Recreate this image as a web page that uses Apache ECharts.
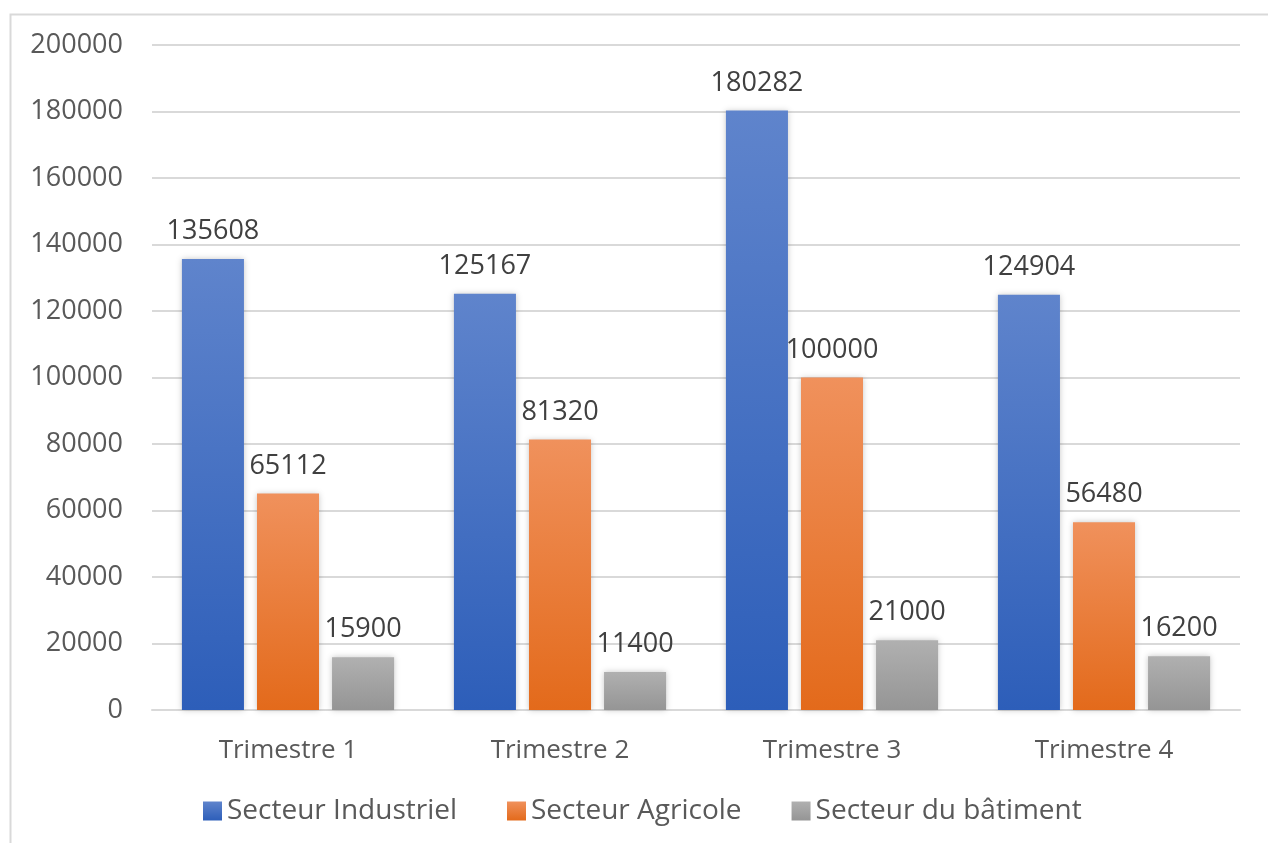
<!DOCTYPE html>
<html>
<head>
<meta charset="utf-8">
<script src="https://cdn.jsdelivr.net/npm/echarts@6/dist/echarts.min.js"></script>
<style>
  html, body { margin: 0; padding: 0; background: #ffffff; }
  #chart { width: 1268px; height: 843px; }
</style>
</head>
<body>
<div id="chart"></div>
<script>
// Quarterly figures by sector
const categories = ['Trimestre 1', 'Trimestre 2', 'Trimestre 3', 'Trimestre 4'];
const seriesNames = ['Secteur Industriel', 'Secteur Agricole', 'Secteur du bâtiment'];
const industriel = [135608, 125167, 180282, 124904];
const agricole = [65112, 81320, 100000, 56480];
const batiment = [15900, 11400, 21000, 16200];

const FONT = '"Open Sans", "Liberation Sans", sans-serif';
const TEXT = '#595959';

function grad(top, bottom) {
  return new echarts.graphic.LinearGradient(0, 0, 0, 1, [
    { offset: 0, color: top },
    { offset: 1, color: bottom }
  ]);
}

const palettes = [
  grad('#5f84cc', '#2d5eb9'),
  grad('#f0915c', '#e36a1b'),
  grad('#b0b0b0', '#959595')
];

function makeSeries(name, data, idx) {
  return {
    name: name,
    type: 'bar',
    data: data,
    barGap: '21%',
    barCategoryGap: '22%',
    itemStyle: {
      color: palettes[idx],
      shadowBlur: 6,
      shadowColor: 'rgba(0,0,0,0.22)'
    },
    label: {
      show: true,
      position: 'top',
      distance: 14,
      fontFamily: FONT,
      fontSize: 27,
      color: '#404040'
    },
    emphasis: { disabled: true }
  };
}

const chart = echarts.init(document.getElementById('chart'), null, { renderer: 'canvas' });

chart.setOption({
  animation: false,
  backgroundColor: '#ffffff',
  graphic: [{
    type: 'rect',
    left: 8, top: 12,
    shape: { width: 1400, height: 1000 },
    style: { fill: 'none', stroke: '#d9d9d9', lineWidth: 2 },
    silent: true,
    z: -1
  }],
  grid: { left: 152, right: 28, top: 45, bottom: 133 },
  legend: {
    left: 198,
    top: 792,
    itemWidth: 19,
    itemHeight: 19,
    itemGap: 50,
    icon: 'rect',
    textStyle: { fontFamily: FONT, fontSize: 28, color: TEXT },
    data: seriesNames.map((n, i) => ({
      name: n,
      itemStyle: { color: palettes[i] }
    }))
  },
  xAxis: {
    type: 'category',
    data: categories,
    axisLine: { lineStyle: { color: '#d9d9d9', width: 2 } },
    axisTick: { show: false },
    axisLabel: { margin: 28, fontFamily: FONT, fontSize: 26, color: TEXT }
  },
  yAxis: {
    type: 'value',
    min: 0,
    max: 200000,
    interval: 20000,
    axisLine: { show: false },
    axisTick: { show: false },
    axisLabel: {
      margin: 29,
      fontFamily: FONT,
      fontSize: 27,
      color: TEXT,
      formatter: v => String(v)
    },
    splitLine: { lineStyle: { color: '#d9d9d9', width: 2 } }
  },
  series: [
    makeSeries(seriesNames[0], industriel, 0),
    makeSeries(seriesNames[1], agricole, 1),
    makeSeries(seriesNames[2], batiment, 2)
  ]
});
</script>
</body>
</html>
